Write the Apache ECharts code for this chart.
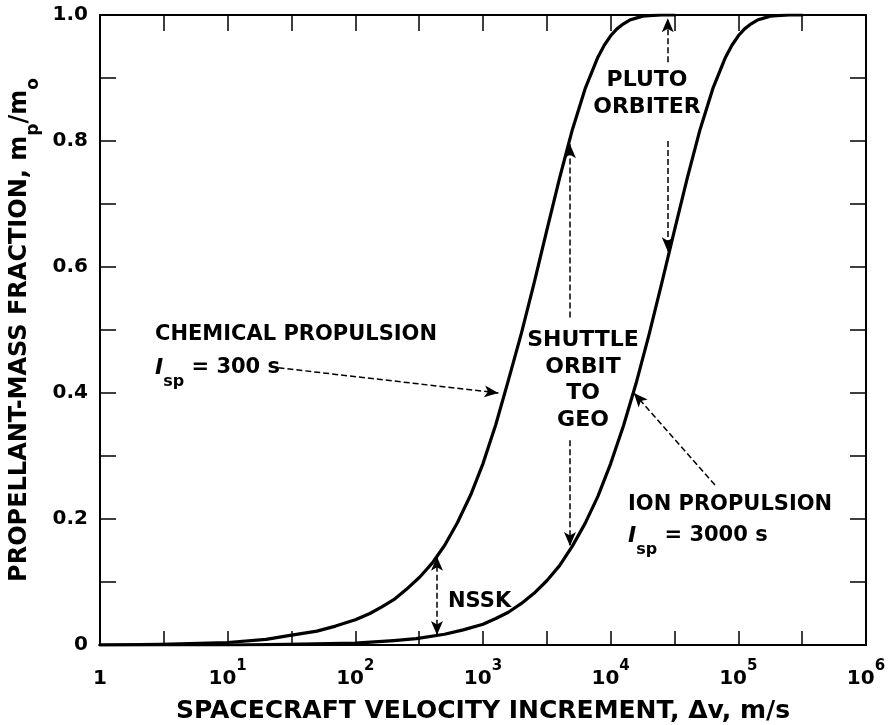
<!DOCTYPE html>
<html>
<head>
<meta charset="utf-8">
<script src="https://cdn.jsdelivr.net/npm/echarts@6/dist/echarts.min.js"></script>
<style>
html,body{margin:0;padding:0;background:#fff;}
#chart{width:888px;height:725px;}
</style>
</head>
<body>
<div id="chart"></div>
<script>
// ---- data ----
const velChem  = [1, 3, 10, 20, 30, 50, 70, 100, 130, 160, 200, 250, 320, 400, 500, 630, 800, 1000, 1260, 1580, 2000, 2510, 3160, 3980, 5010, 6310, 7940, 8910, 10000, 11200, 12600, 14100, 15800, 17800, 20000, 25100, 31600];
const fracChem = [0.000, 0.001, 0.004, 0.009, 0.015, 0.022, 0.030, 0.040, 0.050, 0.060, 0.072, 0.088, 0.108, 0.130, 0.158, 0.194, 0.238, 0.288, 0.350, 0.420, 0.495, 0.574, 0.658, 0.741, 0.818, 0.883, 0.933, 0.952, 0.967, 0.978, 0.986, 0.992, 0.995, 0.998, 0.999, 1.000, 1.000];
const velIon   = [1, 10, 30, 100, 200, 300, 500, 700, 1000, 1260, 1580, 2000, 2510, 3160, 3980, 5010, 6310, 7940, 10000, 12600, 15800, 20000, 25100, 31600, 39800, 50100, 63100, 79400, 89100, 100000, 112000, 126000, 141000, 158000, 178000, 200000, 251000, 316000];
const fracIon  = [0.000, 0.000, 0.001, 0.003, 0.007, 0.010, 0.017, 0.024, 0.033, 0.042, 0.052, 0.066, 0.082, 0.102, 0.126, 0.157, 0.193, 0.236, 0.288, 0.348, 0.415, 0.493, 0.574, 0.658, 0.741, 0.818, 0.883, 0.933, 0.952, 0.967, 0.978, 0.986, 0.992, 0.995, 0.998, 0.999, 1.000, 1.000];
const xTickExps = ['', '1', '2', '3', '4', '5', '6'];
const yTickLabels = {0: '0', 2: '0.2', 4: '0.4', 6: '0.6', 8: '0.8', 10: '1.0'};

// annotation arrows, [from, to] in data coords
const arrowChem    = [[25, 0.44], [1320, 0.40]];
const arrowShutUp  = [[4800, 0.52], [4800, 0.795]];
const arrowShutDn  = [[4800, 0.325], [4800, 0.157]];
const arrowPlutoUp = [[28000, 0.925], [28000, 0.995]];
const arrowPlutoDn = [[28000, 0.80], [28000, 0.625]];
const arrowNSSK    = [[436, 0.140], [436, 0.016]];
const arrowIon     = [[65600, 0.254], [15200, 0.40]];

const FONT = 'DejaVu Sans';
const chart = echarts.init(document.getElementById('chart'));

const tickStyle = {color: '#000', width: 1.5};
const lineStyleAxis = {color: '#000', width: 2};

function ml(pair, both) {
  return [
    {coord: pair[0], symbol: both ? 'arrow' : 'none'},
    {coord: pair[1], symbol: 'arrow'}
  ];
}

function txt(x, y, text, align, size) {
  const s = size || 21;
  return {
    type: 'text', x: x, y: y, silent: true,
    style: {
      text: text, fill: '#000',
      font: 'bold ' + s + 'px "' + FONT + '"',
      align: align || 'left', textAlign: align || 'left',
      verticalAlign: 'middle', textVerticalAlign: 'middle',
      rich: {
        i: {fontFamily: FONT, fontWeight: 'bold', fontStyle: 'italic', fontSize: 22, verticalAlign: 'middle', lineHeight: 26},
        sub: {fontFamily: FONT, fontWeight: 'bold', fontSize: 16, verticalAlign: 'bottom', lineHeight: 26, padding: [0, 0, -9, 0]},
        n: {fontFamily: FONT, fontWeight: 'bold', fontSize: 21, verticalAlign: 'middle', lineHeight: 26}
      }
    }
  };
}

chart.setOption({
  animation: false,
  backgroundColor: '#fff',
  grid: {left: 100, right: 22, top: 15, bottom: 80, containLabel: false, outerBoundsMode: 'none'},
  xAxis: [
    {
      type: 'log', logBase: 10, min: 1, max: 1e6, splitNumber: 6,
      position: 'bottom',
      axisLine: {show: true, onZero: false, lineStyle: lineStyleAxis},
      axisTick: {show: false},
      splitLine: {show: false},
      minorTick: {show: false},
      axisLabel: {
        margin: 14, color: '#000',
        formatter: function (v) {
          const e = Math.round(Math.log10(v));
          if (e === 0) return '{b|1}';
          return '{b|10}{s|' + xTickExps[e] + '}';
        },
        rich: {
          b: {fontFamily: FONT, fontWeight: 'bold', fontSize: 20, color: '#000', lineHeight: 30, verticalAlign: 'bottom'},
          s: {fontFamily: FONT, fontWeight: 'bold', fontSize: 15, color: '#000', lineHeight: 30, verticalAlign: 'top'}
        }
      },
      name: 'SPACECRAFT VELOCITY INCREMENT, \u0394v, m/s',
      nameLocation: 'middle', nameGap: 54,
      nameTextStyle: {fontFamily: FONT, fontWeight: 'bold', fontSize: 25, color: '#000'}
    },
    {
      type: 'value', min: 0, max: 6, interval: 0.5, position: 'bottom',
      axisLine: {show: false, onZero: false}, axisLabel: {show: false}, splitLine: {show: false},
      axisTick: {show: true, inside: true, length: 14, lineStyle: tickStyle}
    },
    {
      type: 'value', min: 0, max: 6, interval: 0.5, position: 'top',
      axisLine: {show: true, onZero: false, lineStyle: lineStyleAxis}, axisLabel: {show: false}, splitLine: {show: false},
      axisTick: {show: true, inside: true, length: 16, lineStyle: tickStyle}
    }
  ],
  yAxis: [
    {
      type: 'value', min: 0, max: 1, interval: 0.1, position: 'left',
      axisLine: {show: true, onZero: false, lineStyle: lineStyleAxis},
      axisTick: {show: true, inside: true, length: 16, lineStyle: tickStyle},
      splitLine: {show: false},
      axisLabel: {
        margin: 12, color: '#000', fontFamily: FONT, fontWeight: 'bold', fontSize: 20,
        formatter: function (v) {
          const k = Math.round(v * 10);
          return yTickLabels[k] !== undefined ? yTickLabels[k] : '';
        }
      },
      name: 'PROPELLANT-MASS FRACTION, m{sub|p}/m{sub|o}',
      nameLocation: 'middle', nameRotate: 90, nameGap: 61,
      nameTextStyle: {
        fontFamily: FONT, fontWeight: 'bold', fontSize: 24, color: '#000',
        rich: {
          sub: {fontFamily: FONT, fontWeight: 'bold', fontSize: 17, color: '#000', verticalAlign: 'bottom', padding: [0, 0, -10, 0]}
        }
      }
    },
    {
      type: 'value', min: 0, max: 1, interval: 0.1, position: 'right',
      axisLine: {show: true, onZero: false, lineStyle: lineStyleAxis},
      axisTick: {show: true, inside: true, length: 16, lineStyle: tickStyle},
      splitLine: {show: false}, axisLabel: {show: false}
    }
  ],
  series: [
    {
      name: 'Chemical', type: 'line', xAxisIndex: 0, yAxisIndex: 0,
      data: velChem.map((v, i) => [v, fracChem[i]]),
      showSymbol: false, smooth: false,
      lineStyle: {color: '#000', width: 3.2, join: 'round', cap: 'round'}
    },
    {
      name: 'Ion', type: 'line', xAxisIndex: 0, yAxisIndex: 0,
      data: velIon.map((v, i) => [v, fracIon[i]]),
      showSymbol: false, smooth: false,
      lineStyle: {color: '#000', width: 3.2, join: 'round', cap: 'round'}
    },
    {
      name: 'arrows', type: 'line', xAxisIndex: 0, yAxisIndex: 0,
      data: [[1, 0]], showSymbol: false, lineStyle: {width: 0, opacity: 0},
      markLine: {
        silent: true, animation: false,
        symbolSize: [9, 14],
        label: {show: false},
        lineStyle: {color: '#000', width: 1.5, type: [6, 3]},
        data: [
          ml(arrowChem), ml(arrowShutUp), ml(arrowShutDn),
          ml(arrowPlutoUp), ml(arrowPlutoDn), ml(arrowNSSK, true), ml(arrowIon)
        ]
      }
    }
  ],
  graphic: [
    txt(155, 335, 'CHEMICAL PROPULSION'),
    txt(155, 368, '{i|I}{sub|sp}{n| = 300 s}'),
    txt(583, 340, 'SHUTTLE', 'center', 22),
    txt(583, 367, 'ORBIT', 'center', 22),
    txt(583, 393, 'TO', 'center', 22),
    txt(583, 420, 'GEO', 'center', 22),
    txt(647, 80, 'PLUTO', 'center', 22),
    txt(647, 107, 'ORBITER', 'center', 22),
    txt(448, 602, 'NSSK'),
    txt(628, 505, 'ION PROPULSION'),
    txt(628, 536, '{i|I}{sub|sp}{n| = 3000 s}')
  ]
});
</script>
</body>
</html>
